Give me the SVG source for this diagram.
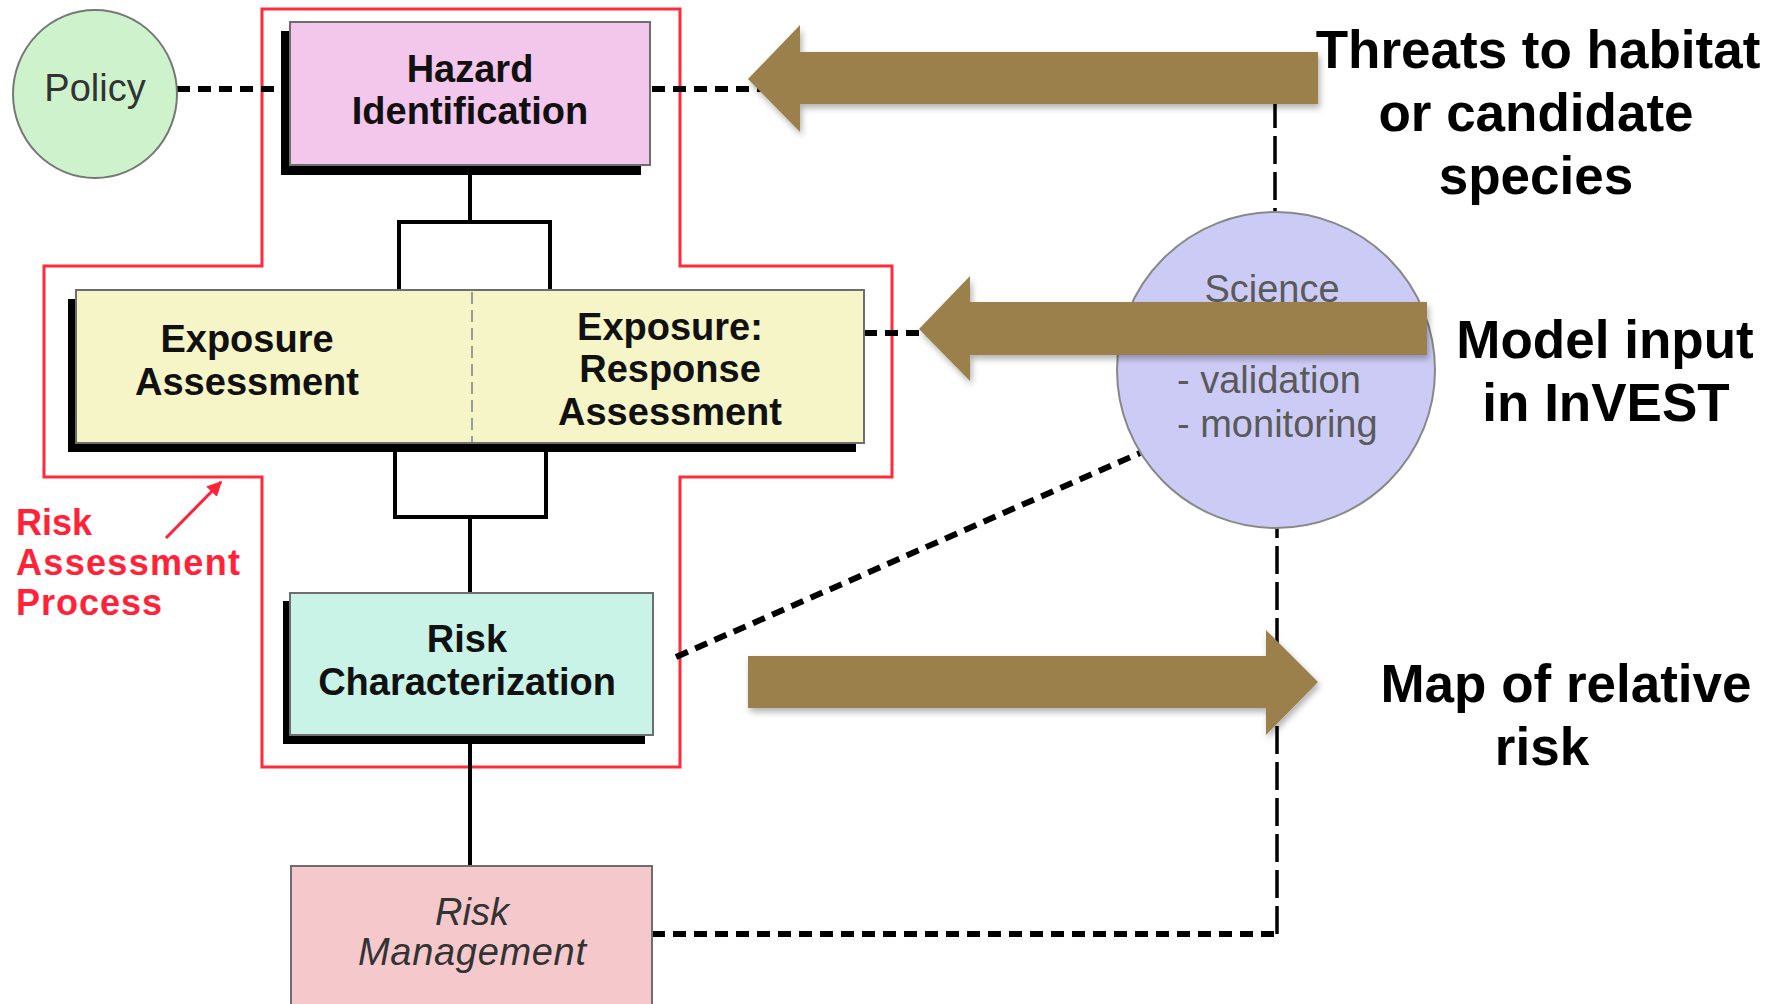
<svg xmlns="http://www.w3.org/2000/svg" width="1769" height="1004" viewBox="0 0 1769 1004">
<defs>
<style>
.box{stroke:#6e6e6e;stroke-width:2}
.shadow{fill:#000}
.t{font-family:"Liberation Sans",Arial,sans-serif;font-size:38px;font-weight:bold;fill:#111;text-anchor:middle}
.tl{font-family:"Liberation Sans",Arial,sans-serif;font-size:38px;fill:#5a5a5a}
.big{font-family:"Liberation Sans",Arial,sans-serif;font-size:53px;font-weight:bold;fill:#000;text-anchor:middle}
.red{font-family:"Liberation Sans",Arial,sans-serif;font-size:36px;font-weight:bold;fill:#ff2238}
.solid{fill:none;stroke:#000;stroke-width:4}
.dash{fill:none;stroke:#000;stroke-width:6;stroke-dasharray:13 8}
.ldash{fill:none;stroke:#000;stroke-width:3.5;stroke-dasharray:28 8}
.arrow{fill:#9b804b;filter:url(#sh)}
</style>
<filter id="sh" x="-5%" y="-20%" width="110%" height="150%">
<feDropShadow dx="2" dy="4" stdDeviation="3" flood-color="#000" flood-opacity="0.3"/>
</filter>
<marker id="redhead" viewBox="0 0 10 10" refX="9" refY="5" markerWidth="5" markerHeight="5" orient="auto">
<path d="M0,0 L10,5 L0,10 z" fill="#ff2238"/>
</marker>
</defs>
<rect width="1769" height="1004" fill="#fff"/>

<g id="risk-assessment-boundary">
<polygon points="262,9 680,9 680,266 892,266 892,477 680,477 680,767 262,767 262,477 44,477 44,266 262,266" fill="none" stroke="#ff2a3c" stroke-width="3"/>
</g>

<g id="connectors">
<line class="dash" x1="177" y1="89" x2="283" y2="89"/>
<polyline class="dash" points="652,89 1275,89"/>
<line class="ldash" x1="1275" y1="100" x2="1275" y2="212"/>
<line class="dash" x1="864" y1="333" x2="1117" y2="333"/>
<line class="dash" x1="676" y1="657" x2="1140" y2="453"/>
<line class="dash" x1="652" y1="934" x2="1277" y2="934"/>
<line class="ldash" x1="1277" y1="934" x2="1277" y2="528"/>
<line class="solid" x1="470" y1="170" x2="470" y2="222"/>
<polyline class="solid" points="399,291 399,222 550,222 550,291"/>
<polyline class="solid" points="395,450 395,517 546,517 546,450"/>
<line class="solid" x1="470" y1="517" x2="470" y2="593"/>
<line class="solid" x1="470" y1="743" x2="470" y2="866"/>
<line x1="166" y1="538" x2="221" y2="482" stroke="#ff2238" stroke-width="3" marker-end="url(#redhead)"/>
</g>

<g id="policy">
<ellipse cx="95" cy="94" rx="82" ry="84" fill="#cdf2cc" stroke="#777" stroke-width="2"/>
<text class="tl" x="95" y="101" text-anchor="middle" style="fill:#333">Policy</text>
</g>

<g id="hazard-identification">
<rect class="shadow" x="281" y="31" width="360" height="144"/>
<rect class="box" x="290" y="22" width="360" height="143" fill="#f3c6ec"/>
<text class="t" x="470" y="82">Hazard</text>
<text class="t" x="470" y="124">Identification</text>
</g>

<g id="exposure">
<rect class="shadow" x="68" y="299" width="788" height="153"/>
<rect class="box" x="76" y="290" width="788" height="153" fill="#f5f5c8"/>
<line x1="472" y1="292" x2="472" y2="442" stroke="#999" stroke-width="2" stroke-dasharray="12 6"/>
<text class="t" x="247" y="352">Exposure</text>
<text class="t" x="247" y="395">Assessment</text>
<text class="t" x="670" y="340">Exposure:</text>
<text class="t" x="670" y="382">Response</text>
<text class="t" x="670" y="425">Assessment</text>
</g>

<g id="risk-characterization">
<rect class="shadow" x="283" y="601" width="362" height="143"/>
<rect class="box" x="290" y="593" width="363" height="142" fill="#c8f3e6"/>
<text class="t" x="467" y="652">Risk</text>
<text class="t" x="467" y="695">Characterization</text>
</g>

<g id="risk-management">
<rect class="box" x="291" y="866" width="361" height="150" fill="#f5c8cc"/>
<text class="tl" x="472" y="925" text-anchor="middle" font-style="italic" style="fill:#333">Risk</text>
<text class="tl" x="472" y="965" text-anchor="middle" font-style="italic" style="fill:#333" textLength="228">Management</text>
</g>

<g id="science">
<ellipse cx="1276" cy="370" rx="159" ry="158" fill="#cccbf6" stroke="#888" stroke-width="2"/>
<text class="tl" x="1272" y="302" text-anchor="middle">Science</text>
<text class="tl" x="1177" y="393">- validation</text>
<text class="tl" x="1177" y="437">- monitoring</text>
</g>

<g id="risk-assessment-label">
<text class="red" x="16" y="535">Risk</text>
<text class="red" x="16" y="575" textLength="224">Assessment</text>
<text class="red" x="16" y="615" textLength="146">Process</text>
</g>

<g id="arrow-threats">
<polygon class="arrow" points="748,79 800,25 800,52 1318,52 1318,104 800,104 800,132"/>
</g>
<g id="arrow-model-input">
<polygon class="arrow" points="919,329 970,276 970,302 1427,302 1427,355 970,355 970,381"/>
</g>
<g id="arrow-map">
<polygon class="arrow" points="748,656 1266,656 1266,630 1318,682 1266,735 1266,708 748,708"/>
</g>

<g id="label-threats">
<text class="big" x="1538" y="68">Threats to habitat</text>
<text class="big" x="1536" y="131">or candidate</text>
<text class="big" x="1536" y="194">species</text>
</g>
<g id="label-model-input">
<text class="big" x="1605" y="358">Model input</text>
<text class="big" x="1606" y="421">in InVEST</text>
</g>
<g id="label-map">
<text class="big" x="1566" y="702">Map of relative</text>
<text class="big" x="1542" y="765">risk</text>
</g>
</svg>
